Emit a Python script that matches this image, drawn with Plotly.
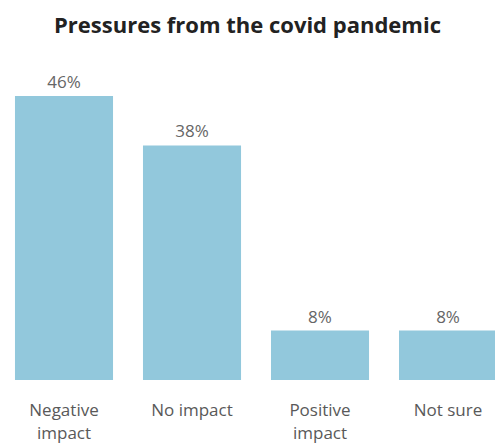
import plotly.graph_objects as go

categories = ["Negative<br>impact", "No impact", "Positive<br>impact", "Not sure"]
values = [46, 38, 8, 8]
title_text = "Pressures from the covid pandemic"

fig = go.Figure(go.Bar(
    x=categories,
    y=values,
    marker=dict(color="#92C8DC", line=dict(width=0)),
    texttemplate="%{y}%",
    textposition="outside",
    textfont=dict(family="Open Sans", size=17, color="#666666"),
    cliponaxis=False,
))

fig.update_layout(
    width=495, height=447,
    margin=dict(l=0, r=0, t=71, b=67),
    paper_bgcolor="white", plot_bgcolor="white",
    bargap=0.234,
    showlegend=False,
    title=dict(text="<b>" + title_text + "</b>", x=0.5, xanchor="center",
               y=1 - 25/447, yanchor="middle",
               font=dict(family="Open Sans", size=22, color="#222222")),
    xaxis=dict(range=[-0.5, 3.367], showgrid=False, showline=False, zeroline=False,
               ticks="outside", ticklen=15, tickcolor="rgba(0,0,0,0)",
               tickfont=dict(family="Open Sans", size=17, color="#595959")),
    yaxis=dict(range=[0, 50.05], visible=False),
)

fig.write_html("out.html")
